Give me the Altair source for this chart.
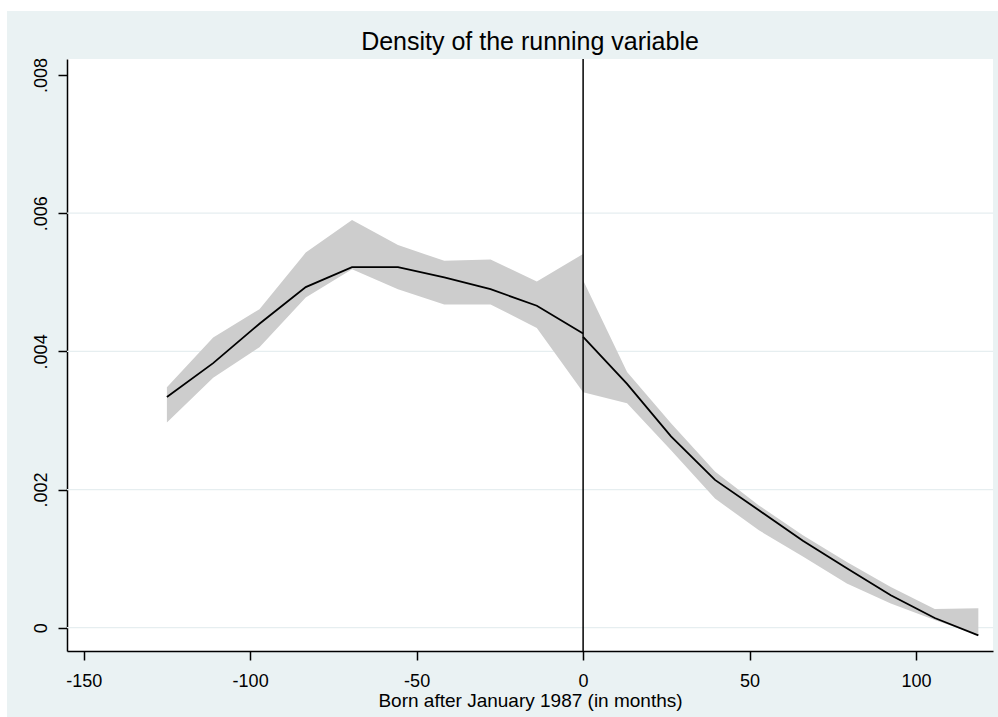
import altair as alt
import pandas as pd

# ---- data ----
x_left = [-125, -111.1, -97.2, -83.3, -69.4, -55.6, -41.7, -27.8, -13.9, 0]
dens_left = [0.00334, 0.00383, 0.00440, 0.00493, 0.00522, 0.00522, 0.00507, 0.00490, 0.00466, 0.00426]
hi_left = [0.00348, 0.00420, 0.00461, 0.00543, 0.00590, 0.00554, 0.00531, 0.00533, 0.00501, 0.00541]
lo_left = [0.00297, 0.00362, 0.00406, 0.00478, 0.00519, 0.00490, 0.00468, 0.00468, 0.00434, 0.00341]

x_right = [0, 13.2, 26.4, 39.6, 52.8, 66, 79.2, 92.4, 105.6, 118.7]
dens_right = [0.00421, 0.00353, 0.00277, 0.00214, 0.00170, 0.00126, 0.00086, 0.00047, 0.00014, -0.00011]
hi_right = [0.00503, 0.00370, 0.00296, 0.00226, 0.00177, 0.00134, 0.00095, 0.00059, 0.00027, 0.00028]
lo_right = [0.00341, 0.00325, 0.00257, 0.00187, 0.00141, 0.00103, 0.00064, 0.00035, 0.00011, -0.00011]

x_ticks = [-150, -100, -50, 0, 50, 100]
y_ticks = [0, 0.002, 0.004, 0.006, 0.008]
grid_vals = [0, 0.002, 0.004, 0.006]
cutoff = [0]

TITLE = "Density of the running variable"
X_TITLE = "Born after January 1987 (in months)"

rows = []
for side, xs, d, h, l in [("left", x_left, dens_left, hi_left, lo_left),
                          ("right", x_right, dens_right, hi_right, lo_right)]:
    for xi, di, hi, lo in zip(xs, d, h, l):
        rows.append({"side": side, "x": xi, "dens": di, "hi": hi, "lo": lo})
df = pd.DataFrame(rows)

FONT = "Liberation Sans"
W, H = 926, 592

xscale = alt.Scale(domain=[-155, 123.1], nice=False, zero=False)
yscale = alt.Scale(domain=[-0.000337, 0.008232], nice=False, zero=False)

xaxis = alt.Axis(values=x_ticks, labelExpr="'' + datum.value", title=X_TITLE,
                 tickSize=9, labelPadding=12, labelFontSize=18, labelFont=FONT,
                 titleFontSize=19, titleFont=FONT, titleFontWeight="normal",
                 titleBaseline="alphabetic", titleY=55, titleColor="black",
                 grid=False, domainColor="black", tickColor="black", labelColor="black",
                 domainWidth=1.5, tickWidth=1.5)
yaxis = alt.Axis(values=y_ticks,
                 labelExpr="datum.value == 0 ? '0' : replace(format(datum.value, '.3f'), '0.', '.')",
                 title=None, tickSize=9, labelPadding=12, labelFontSize=18, labelFont=FONT,
                 labelAngle=270, labelAlign="center", labelBaseline="alphabetic",
                 grid=False, domainColor="black", tickColor="black", labelColor="black",
                 domainWidth=1.5, tickWidth=1.5)

base = alt.Chart(df)

grid = alt.Chart(pd.DataFrame({"g": grid_vals})).mark_rule(
    color="#E6EEF0", strokeWidth=1.2
).encode(y=alt.Y("g:Q", scale=yscale, axis=yaxis))

band = base.mark_area(color="#CDCDCD", opacity=1).encode(
    x=alt.X("x:Q", scale=xscale, axis=xaxis),
    y=alt.Y("hi:Q", scale=yscale),
    y2="lo:Q",
    detail="side:N",
)

line = base.mark_line(color="black", strokeWidth=1.8).encode(
    x=alt.X("x:Q", scale=xscale),
    y=alt.Y("dens:Q", scale=yscale),
    detail="side:N",
)

vline = alt.Chart(pd.DataFrame({"c": cutoff})).mark_rule(
    color="black", strokeWidth=1.5
).encode(x=alt.X("c:Q", scale=xscale))

dummy = pd.DataFrame({"k": [0]})
strip_left = alt.Chart(dummy).mark_rect(color="white").encode(
    x=alt.value(-67), x2=alt.value(-60), y=alt.value(-59), y2=alt.value(658))
strip_top = alt.Chart(dummy).mark_rect(color="white").encode(
    x=alt.value(-67), x2=alt.value(931), y=alt.value(-59), y2=alt.value(-48))

chart = alt.layer(grid, band, line, vline, strip_left, strip_top).properties(
    width=W, height=H,
    title=alt.TitleParams(TITLE, fontSize=25, font=FONT, fontWeight="normal",
                          color="black", anchor="middle", frame="group",
                          baseline="alphabetic", offset=8, dy=83),
    autosize=alt.AutoSizeParams(type="none"),
    padding={"left": 67, "top": 59, "right": 5, "bottom": 66},
    background="#EAF2F3",
).configure_view(fill="white", strokeWidth=0)

chart.save("out.html", embed_options={"renderer": "svg", "actions": False})
